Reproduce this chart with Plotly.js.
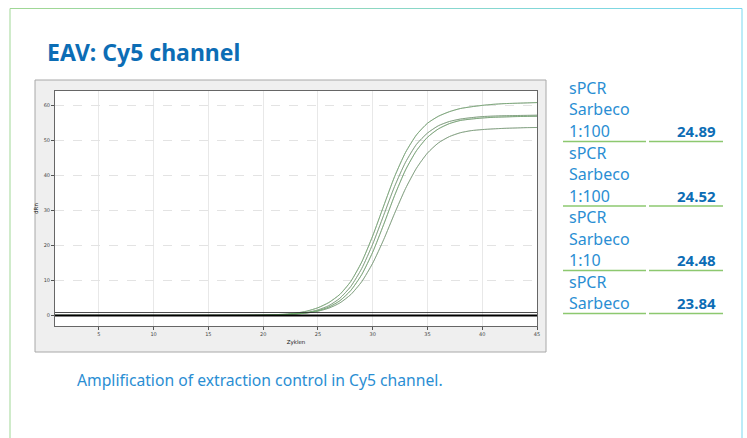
<!DOCTYPE html>
<html>
<head>
<meta charset="utf-8">
<script src="https://cdn.plot.ly/plotly-3.0.1.min.js"></script>
<style>
html,body{margin:0;padding:0;background:#fff;}
#chart{width:747px;height:438px;}
</style>
</head>
<body>
<div id="chart"></div>
<script>
// ---- data ----
const cycles = [1,2,3,4,5,6,7,8,9,10,11,12,13,14,15,16,17,18,19,20,21,22,23,24,25,26,27,28,29,30,31,32,33,34,35,36,37,38,39,40,41,42,43,44,45];
const curveA = [0.03,0.02,0.02,0.01,0.02,0.01,0.01,0.02,0.02,0.01,0.02,0.03,0.02,0.03,0.03,0.04,0.05,0.06,0.08,0.12,0.21,0.38,0.68,1.25,2.2,3.7,6.0,9.7,15.25,22.67,31.2,39.6,46.5,51.5,54.8,56.8,58.1,59.0,59.5,59.9,60.2,60.4,60.5,60.6,60.7];
const curveB = [0.02,0.02,0.01,0.02,0.01,0.02,0.02,0.01,0.01,0.02,0.02,0.02,0.03,0.02,0.03,0.03,0.04,0.05,0.06,0.09,0.15,0.28,0.5,0.89,1.59,2.81,4.9,8.27,13.39,20.34,28.55,36.8,43.7,48.8,52.0,54.1,55.3,56.0,56.4,56.7,56.85,56.95,57.0,57.05,57.1];
const curveC = [0.01,0.02,0.02,0.02,0.01,0.01,0.02,0.02,0.01,0.02,0.01,0.02,0.02,0.02,0.03,0.03,0.04,0.04,0.05,0.07,0.13,0.24,0.43,0.76,1.36,2.41,4.19,7.13,11.66,18.04,25.9,34.2,41.5,47.0,50.8,53.2,54.7,55.6,56.0,56.3,56.5,56.6,56.7,56.75,56.8];
const curveD = [0.02,0.01,0.02,0.01,0.02,0.02,0.01,0.01,0.02,0.02,0.02,0.01,0.02,0.03,0.02,0.03,0.03,0.04,0.05,0.08,0.13,0.23,0.4,0.7,1.22,2.1,3.57,5.96,9.64,14.9,21.6,29.1,36.2,42.0,46.3,49.2,51.0,52.1,52.7,53.0,53.2,53.35,53.45,53.55,53.6];
const baselineValue = 0;
const thresholdValue = 0.85;
const xTicks = [5,10,15,20,25,30,35,40,45];
const yTicks = [0,10,20,30,40,50,60];

const titleText = "EAV: Cy5 channel";
const captionText = "Amplification of extraction control in Cy5 channel.";
const sampleLines = [["sPCR","Sarbeco","1:100"],["sPCR","Sarbeco","1:100"],["sPCR","Sarbeco","1:10"],["sPCR","Sarbeco"]];
const ctValues = ["24.89","24.52","24.48","23.84"];

// ---- layout helpers ----
const W = 747, H = 438;
const M = {l:55, r:210, t:91, b:112};
const PW = W - M.l - M.r, PH = H - M.t - M.b;
const px = x => (x - M.l) / PW;
const py = y => (H - M.b - y) / PH;

const curves = [curveA, curveB, curveC, curveD];
const traces = [];
curves.forEach((c, i) => {
  traces.push({x: cycles, y: c, type: 'scatter', mode: 'lines', line: {shape:'spline', smoothing:0.6, color: '#8a8a8a', width: 0.9}, hoverinfo: 'skip', showlegend: false});
});
curves.forEach((c, i) => {
  traces.push({x: cycles, y: c, type: 'scatter', mode: 'lines', line: {shape:'spline', smoothing:0.6, color: '#62c25e', width: 0.9},
    opacity: (i % 2 === 0) ? 0.5 : 0.35, hoverinfo: 'skip', showlegend: false});
});

const shapes = [];
// gray software frame
shapes.push({type:'rect', xref:'paper', yref:'paper', x0:px(35), x1:px(546), y0:py(352), y1:py(80),
  fillcolor:'#efefef', line:{color:'#a8a8a8', width:1}, layer:'below'});
shapes.push({type:'rect', xref:'paper', yref:'paper', x0:0, x1:1, y0:0, y1:1,
  fillcolor:'#ffffff', line:{width:0}, layer:'below'});
// slide border (gradient green -> cyan)
const segN = 12;
const c0 = [160,215,150], c1 = [120,215,240];
for (let i = 0; i < segN; i++) {
  const t = i/(segN-1);
  const col = `rgb(${Math.round(c0[0]+(c1[0]-c0[0])*t)},${Math.round(c0[1]+(c1[1]-c0[1])*t)},${Math.round(c0[2]+(c1[2]-c0[2])*t)})`;
  const xa = 10 + (742-10)*i/segN, xb = 10 + (742-10)*(i+1)/segN;
  shapes.push({type:'line', xref:'paper', yref:'paper', x0:px(xa), x1:px(xb), y0:py(8.5), y1:py(8.5),
    line:{color:col, width:1}, layer:'below'});
}
shapes.push({type:'line', xref:'paper', yref:'paper', x0:px(10), x1:px(10), y0:py(8.5), y1:py(440),
  line:{color:'rgb(160,215,150)', width:1}, layer:'below'});
shapes.push({type:'line', xref:'paper', yref:'paper', x0:px(742), x1:px(742), y0:py(8.5), y1:py(440),
  line:{color:'rgb(120,215,240)', width:1}, layer:'below'});
// baseline & threshold
shapes.push({type:'line', xref:'x', yref:'y', x0:cycles[0], x1:cycles[cycles.length-1], y0:baselineValue, y1:baselineValue,
  line:{color:'#000', width:2.2}});
shapes.push({type:'line', xref:'x', yref:'y', x0:cycles[0], x1:cycles[cycles.length-1], y0:thresholdValue, y1:thresholdValue,
  line:{color:'#222', width:0.8}});

const annotations = [];
const FONT = "Noto Sans, Open Sans, sans-serif";
annotations.push({xref:'paper', yref:'paper', x:px(45), y:py(52), xanchor:'left', yanchor:'middle', showarrow:false,
  text:'<b>'+titleText+'</b>', font:{family:FONT, size:23, color:'#0c6db5'}});
annotations.push({xref:'paper', yref:'paper', x:px(75), y:py(380), xanchor:'left', yanchor:'middle', showarrow:false,
  text:captionText, font:{family:FONT, size:15.7, color:'#2a8ed3'}});

let line = 0;
const lineH = 21.5, firstBase = 93;
sampleLines.forEach((lines, bi) => {
  lines.forEach((t, li) => {
    const base = firstBase + lineH*line;
    annotations.push({xref:'paper', yref:'paper', x:px(567), y:py(base-5), xanchor:'left', yanchor:'middle', showarrow:false,
      text:t, font:{family:FONT, size:16, color:'#2a8ed3'}});
    if (li === lines.length-1) {
      annotations.push({xref:'paper', yref:'paper', x:px(718), y:py(base-5), xanchor:'right', yanchor:'middle', showarrow:false,
        text:'<b>'+ctValues[bi]+'</b>', font:{family:FONT, size:15, color:'#0c6db5'}});
      shapes.push({type:'line', xref:'paper', yref:'paper', x0:px(563), x1:px(646), y0:py(base+5.5), y1:py(base+5.5),
        line:{color:'#8dc86f', width:1.5}});
      shapes.push({type:'line', xref:'paper', yref:'paper', x0:px(649), x1:px(723), y0:py(base+5.5), y1:py(base+5.5),
        line:{color:'#8dc86f', width:1.5}});
    }
    line++;
  });
});

const layout = {
  width: W, height: H,
  margin: M,
  paper_bgcolor: 'rgba(0,0,0,0)',
  plot_bgcolor: 'rgba(0,0,0,0)',
  showlegend: false,
  xaxis: {
    range: [1, 45], tickvals: xTicks, ticktext: xTicks.map(String),
    ticks: 'outside', ticklen: 3, tickcolor: '#555', tickfont: {family:'DejaVu Sans', size:5, color:'#444'},
    showline: true, linecolor: '#666', linewidth: 1, mirror: true,
    showgrid: true, gridcolor: '#e8e8e8', gridwidth: 1, zeroline: false,
    title: {text: 'Zyklen', font: {family:'DejaVu Sans', size:5.5, color:'#222'}, standoff: 4}
  },
  yaxis: {
    range: [-3, 64], tickvals: yTicks, ticktext: yTicks.map(String),
    ticks: 'outside', ticklen: 3, tickcolor: '#555', tickfont: {family:'DejaVu Sans', size:5, color:'#444'},
    showline: true, linecolor: '#666', linewidth: 1, mirror: true,
    showgrid: true, gridcolor: '#e3e3e3', gridwidth: 1, griddash: 'dash', zeroline: false,
    title: {text: 'dRn', font: {family:'DejaVu Sans', size:5.5, color:'#222'}, standoff: 4}
  },
  shapes: shapes,
  annotations: annotations
};

Plotly.newPlot('chart', traces, layout, {displayModeBar: false, staticPlot: true});
</script>
</body>
</html>
